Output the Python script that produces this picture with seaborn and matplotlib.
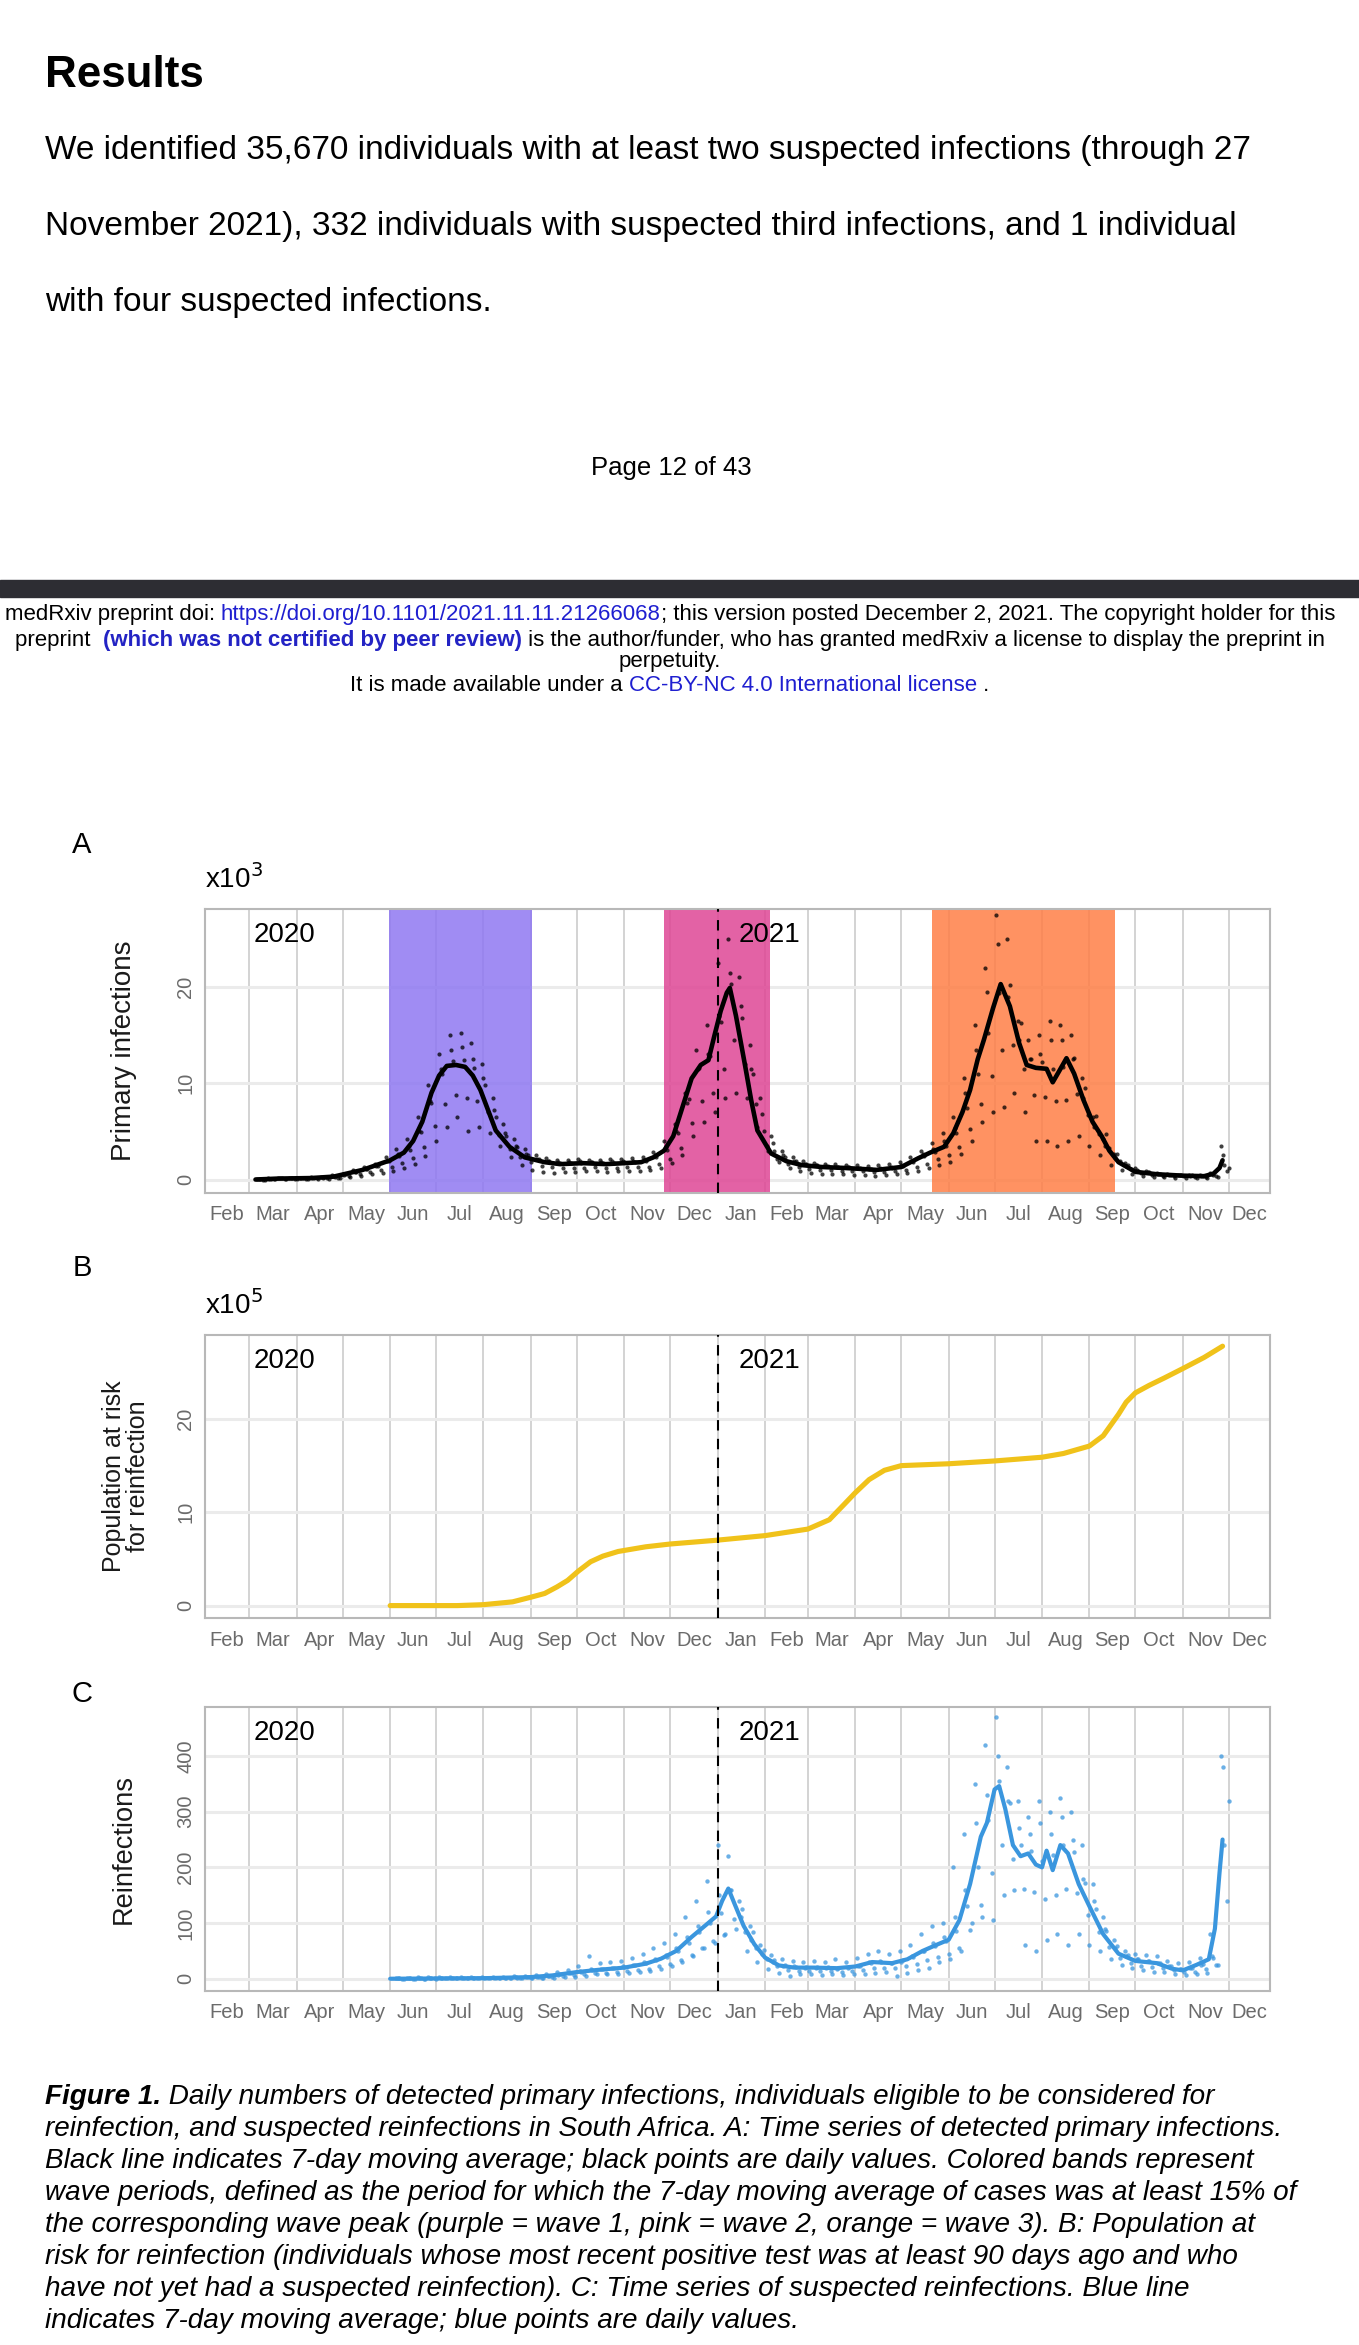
import pandas as pd
import matplotlib
matplotlib.use("Agg")
import matplotlib.pyplot as plt
import matplotlib.dates as mdates
from matplotlib.transforms import IdentityTransform
import numpy as np
import seaborn as sns

# ---------------- data ----------------
month_labels = ["Feb", "Mar", "Apr", "May", "Jun", "Jul", "Aug", "Sep", "Oct", "Nov", "Dec",
                "Jan", "Feb", "Mar", "Apr", "May", "Jun", "Jul", "Aug", "Sep", "Oct", "Nov", "Dec"]

# A: primary infections, 7-day average (x10^3)
a_line_dates = ["2020-03-05", "2020-03-20", "2020-04-10", "2020-04-25", "2020-05-14", "2020-06-01",
                "2020-06-10", "2020-06-16", "2020-06-22", "2020-06-28", "2020-07-03", "2020-07-08",
                "2020-07-14", "2020-07-20", "2020-07-25", "2020-07-30", "2020-08-04", "2020-08-09",
                "2020-08-18", "2020-08-28", "2020-09-10", "2020-09-20", "2020-10-05", "2020-10-20",
                "2020-11-01", "2020-11-12", "2020-11-20", "2020-11-27", "2020-12-03", "2020-12-10",
                "2020-12-15", "2020-12-21", "2020-12-26", "2020-12-30", "2021-01-03", "2021-01-07",
                "2021-01-09", "2021-01-13", "2021-01-19", "2021-01-23", "2021-01-27", "2021-02-05",
                "2021-02-15", "2021-02-25", "2021-03-10", "2021-03-25", "2021-04-05", "2021-04-15",
                "2021-05-01", "2021-05-12", "2021-05-20", "2021-05-29", "2021-06-04", "2021-06-10",
                "2021-06-15", "2021-06-20", "2021-06-24", "2021-06-30", "2021-07-05", "2021-07-11",
                "2021-07-17", "2021-07-22", "2021-07-28", "2021-08-04", "2021-08-08", "2021-08-12",
                "2021-08-17", "2021-08-22", "2021-08-28", "2021-09-03", "2021-09-09", "2021-09-14",
                "2021-09-20", "2021-10-01", "2021-10-15", "2021-11-01", "2021-11-15", "2021-11-21",
                "2021-11-25", "2021-11-27"]
a_line_vals = [0.0, 0.1, 0.15, 0.3, 1.0, 2.0,
               2.8, 4.0, 6.0, 9.0, 10.8, 11.8,
               11.9, 11.7, 10.8, 9.3, 7.2, 5.1,
               3.4, 2.3, 1.8, 1.6, 1.7, 1.6,
               1.7, 1.8, 2.3, 3.0, 4.5, 8.0,
               10.5, 11.9, 12.4, 15.0, 17.5, 19.4,
               19.9, 17.0, 11.8, 8.2, 5.1, 2.7,
               1.9, 1.5, 1.3, 1.2, 1.1, 1.0,
               1.3, 2.2, 2.8, 3.4, 4.8, 7.0,
               9.3, 12.5, 14.5, 17.8, 20.3, 18.0,
               14.2, 11.9, 11.6, 11.5, 10.1, 11.2,
               12.6, 11.0, 8.3, 6.0, 4.5, 3.0,
               1.8, 0.8, 0.55, 0.4, 0.35, 0.6,
               1.2, 2.0]

# A: daily points, five per week (weeks from 2020-03-05), x10^3
a_dot_hi = [0.05, 0.15, 0.2, 0.2, 0.2, 0.22, 0.3, 0.45, 0.6, 0.95, 1.3, 1.6, 2.3, 3.2, 4.2, 6.5,
            9.8, 13.0, 15.0, 15.2, 14.2, 12.0, 8.5, 5.8, 4.2, 3.2, 2.5, 2.2, 2.0, 2.0, 2.1, 2.0,
            2.0, 2.1, 2.1, 2.2, 2.3, 2.9, 4.0, 5.8, 9.0, 13.5, 16.0, 22.5, 25.0, 21.0, 14.0, 8.5,
            4.5, 3.0, 2.3, 1.9, 1.7, 1.6, 1.6, 1.5, 1.5, 1.4, 1.5, 1.6, 1.8, 2.3, 3.0, 3.8,
            4.8, 6.5, 10.5, 16.0, 22.0, 27.5, 25.0, 16.5, 14.5, 15.0, 16.5, 16.0, 15.0, 10.5, 6.5, 4.2,
            2.6, 1.7, 1.2, 0.9, 0.7, 0.6, 0.5, 0.45, 0.45, 0.7, 3.5]
a_dot_mid = [0.02, 0.1, 0.12, 0.15, 0.15, 0.18, 0.2, 0.35, 0.5, 0.8, 1.1, 1.4, 1.9, 2.6, 3.5, 5.0,
             8.2, 11.5, 13.5, 13.8, 12.5, 10.5, 7.2, 4.8, 3.5, 2.7, 2.1, 1.9, 1.8, 1.8, 1.9, 1.8,
             1.8, 1.9, 1.9, 1.9, 2.0, 2.5, 3.4, 5.0, 8.0, 11.5, 13.0, 17.0, 21.5, 18.0, 11.5, 6.8,
             3.8, 2.5, 1.9, 1.6, 1.5, 1.4, 1.3, 1.3, 1.2, 1.1, 1.2, 1.3, 1.5, 1.9, 2.6, 3.2,
             4.0, 5.3, 9.0, 13.5, 19.5, 24.5, 19.0, 14.5, 12.5, 13.0, 14.5, 14.5, 12.5, 8.5, 5.5, 3.5,
             2.2, 1.4, 1.0, 0.75, 0.6, 0.5, 0.45, 0.4, 0.4, 0.55, 2.5]
a_dot_near = [0.02, 0.07, 0.12, 0.14, 0.15, 0.17, 0.22, 0.3, 0.55, 0.8, 1.05, 1.45, 1.9, 2.4, 3.1, 4.9,
              7.9, 11.0, 12.3, 12.4, 11.6, 9.8, 6.5, 4.5, 3.4, 2.5, 2.1, 1.9, 1.75, 1.7, 1.75, 1.8,
              1.75, 1.7, 1.8, 1.85, 1.9, 2.3, 3.1, 4.8, 8.4, 11.6, 12.8, 16.4, 20.3, 16.8, 11.0, 5.0,
              3.0, 2.3, 1.9, 1.6, 1.5, 1.4, 1.3, 1.25, 1.2, 1.12, 1.05, 1.2, 1.4, 1.8, 2.4, 2.9,
              3.5, 4.8, 7.4, 11.0, 15.2, 19.4, 20.2, 16.3, 12.5, 12.2, 11.5, 11.7, 12.6, 9.5, 6.6, 4.7,
              2.6, 1.5, 0.9, 0.75, 0.58, 0.52, 0.45, 0.42, 0.37, 0.48, 1.5]
a_dot_lo2 = [0.0, 0.03, 0.07, 0.09, 0.1, 0.11, 0.15, 0.2, 0.35, 0.55, 0.75, 1.0, 1.3, 1.7, 2.2, 3.4,
             5.6, 7.8, 8.8, 8.5, 8.2, 7.0, 4.6, 3.2, 2.3, 1.8, 1.4, 1.3, 1.2, 1.2, 1.2, 1.25,
             1.2, 1.2, 1.25, 1.3, 1.35, 1.6, 2.1, 3.3, 5.9, 8.2, 9.0, 11.5, 14.5, 12.0, 7.8, 3.5,
             2.1, 1.6, 1.3, 1.1, 1.0, 0.95, 0.9, 0.9, 0.85, 0.8, 0.75, 0.85, 0.95, 1.25, 1.65, 2.1,
             2.5, 3.4, 5.2, 7.8, 10.8, 13.5, 14.0, 11.5, 8.8, 8.6, 8.2, 8.3, 8.9, 6.7, 4.7, 3.3,
             1.9, 1.05, 0.65, 0.52, 0.4, 0.37, 0.32, 0.3, 0.27, 0.34, 0.9]
a_dot_lo = [0.0, 0.05, 0.05, 0.05, 0.08, 0.08, 0.1, 0.15, 0.25, 0.4, 0.6, 0.7, 0.9, 1.2, 1.6, 2.4,
            4.0, 5.5, 6.5, 5.0, 5.5, 4.8, 3.5, 2.3, 1.5, 1.0, 0.8, 0.7, 0.8, 0.8, 0.9, 0.9,
            0.8, 0.9, 0.9, 0.9, 1.0, 1.2, 1.7, 2.5, 4.5, 6.0, 7.0, 8.5, 9.0, 8.5, 5.5, 3.0,
            1.8, 1.2, 0.9, 0.7, 0.6, 0.6, 0.6, 0.5, 0.5, 0.4, 0.5, 0.6, 0.7, 0.9, 1.2, 1.5,
            1.8, 2.6, 4.0, 6.0, 7.0, 7.5, 9.0, 7.0, 4.0, 4.0, 3.5, 4.0, 4.5, 3.5, 2.5, 1.5,
            1.0, 0.6, 0.4, 0.3, 0.25, 0.2, 0.2, 0.15, 0.2, 0.3, 1.2]

# A: wave periods
wave_starts = ["2020-05-31", "2020-11-27", "2021-05-21"]
wave_ends = ["2020-09-02", "2021-02-04", "2021-09-18"]
wave_colors = ["#8f78f2", "#df4695", "#ff7f47"]

# B: population at risk for reinfection (x10^5)
b_dates = ["2020-06-01", "2020-07-15", "2020-08-01", "2020-08-20", "2020-09-01", "2020-09-10",
           "2020-09-18", "2020-09-25", "2020-10-02", "2020-10-10", "2020-10-18", "2020-10-28",
           "2020-11-15", "2020-12-01", "2020-12-31", "2021-02-01", "2021-03-01", "2021-03-15",
           "2021-03-25", "2021-04-01", "2021-04-10", "2021-04-20", "2021-05-01", "2021-06-01",
           "2021-07-01", "2021-08-01", "2021-08-15", "2021-09-01", "2021-09-10", "2021-09-20",
           "2021-09-25", "2021-10-01", "2021-10-10", "2021-10-20", "2021-11-01", "2021-11-15",
           "2021-11-27"]
b_vals = [0.0, 0.0, 0.1, 0.4, 0.9, 1.3,
          2.0, 2.7, 3.7, 4.7, 5.3, 5.8,
          6.3, 6.6, 7.0, 7.5, 8.2, 9.2,
          10.9, 12.1, 13.5, 14.5, 15.0, 15.2,
          15.5, 15.9, 16.3, 17.1, 18.2, 20.5,
          21.8, 22.8, 23.6, 24.4, 25.4, 26.6,
          27.8]

# C: reinfections, 7-day average
c_line_dates = ["2020-06-01", "2020-08-01", "2020-09-01", "2020-09-15", "2020-10-01", "2020-10-15",
                "2020-11-01", "2020-11-15", "2020-11-25", "2020-12-05", "2020-12-15", "2020-12-25",
                "2020-12-31", "2021-01-04", "2021-01-08", "2021-01-12", "2021-01-18", "2021-01-25",
                "2021-02-01", "2021-02-10", "2021-02-20", "2021-03-05", "2021-03-20", "2021-04-01",
                "2021-04-12", "2021-04-25", "2021-05-05", "2021-05-15", "2021-05-25", "2021-06-01",
                "2021-06-08", "2021-06-15", "2021-06-22", "2021-06-26", "2021-07-01", "2021-07-04",
                "2021-07-08", "2021-07-13", "2021-07-18", "2021-07-23", "2021-07-28", "2021-08-01",
                "2021-08-04", "2021-08-08", "2021-08-13", "2021-08-18", "2021-08-25", "2021-09-01",
                "2021-09-10", "2021-09-20", "2021-10-01", "2021-10-15", "2021-10-25", "2021-11-01",
                "2021-11-10", "2021-11-18", "2021-11-22", "2021-11-25", "2021-11-27"]
c_line_vals = [0, 1, 3, 6, 12, 16,
               20, 27, 36, 50, 75, 98,
               112, 140, 162, 135, 95, 62,
               38, 24, 20, 20, 19, 22,
               30, 28, 35, 50, 62, 70,
               105, 170, 255, 280, 340, 346,
               305, 240, 220, 225, 205, 200,
               230, 195, 240, 225, 170, 130,
               80, 45, 32, 28, 18, 15,
               25, 35, 90, 190, 250]

# C: daily points, five per week (weeks from 2020-06-04)
c_dot_hi = [2, 2, 3, 3, 3, 4, 4, 4, 4, 4, 4, 5, 5, 7, 9, 12, 16, 22, 40, 28, 30, 32, 38, 45, 55, 65,
            80, 110, 140, 175, 240, 220, 140, 95, 60, 42, 35, 32, 30, 32, 30, 35, 30, 38, 45, 50,
            45, 50, 60, 80, 95, 100, 200, 260, 350, 420, 470, 380, 320, 290, 320, 300, 325, 300, 240, 170,
            110, 70, 50, 45, 42, 40, 32, 28, 30, 38, 80, 400]
c_dot_mid = [1, 1, 1, 2, 2, 2, 2, 2, 2, 2, 2, 3, 3, 4, 5, 7, 10, 14, 18, 18, 20, 22, 25, 30, 35, 42,
             55, 75, 95, 120, 150, 160, 110, 70, 45, 30, 22, 22, 20, 20, 20, 18, 20, 22, 30, 32,
             28, 30, 40, 50, 65, 75, 110, 160, 280, 330, 400, 320, 270, 260, 280, 260, 290, 250, 180, 140,
             90, 55, 40, 35, 32, 28, 22, 18, 20, 25, 40, 380]
c_dot_near = [1, 1, 1, 1, 1, 1, 1, 1, 1, 2, 2, 2, 3, 4, 5, 8, 10, 13, 15, 17, 19, 21, 24, 28, 33, 39,
              50, 65, 84, 100, 118, 160, 125, 84, 52, 34, 24, 21, 21, 21, 21, 20, 21, 23, 28, 30,
              29, 33, 39, 50, 58, 68, 85, 130, 200, 285, 355, 315, 240, 230, 212, 222, 240, 228, 172, 125,
              86, 58, 42, 35, 31, 29, 23, 18, 19, 27, 38, 240]
c_dot_lo2 = [0, 0, 0, 1, 1, 1, 1, 1, 1, 1, 1, 1, 2, 2, 3, 5, 6, 8, 10, 11, 13, 14, 16, 18, 22, 26,
             33, 43, 56, 67, 78, 108, 84, 56, 35, 22, 16, 14, 14, 14, 14, 13, 14, 15, 19, 20,
             19, 22, 26, 33, 39, 45, 56, 88, 133, 190, 240, 215, 162, 156, 143, 150, 162, 154, 115, 84,
             57, 38, 28, 23, 21, 20, 15, 12, 13, 18, 25, 140]
c_dot_lo = [0, 0, 0, 0, 1, 1, 1, 1, 1, 1, 1, 1, 1, 1, 2, 3, 4, 5, 8, 8, 9, 10, 12, 14, 18, 22,
            30, 40, 55, 65, 80, 90, 50, 30, 18, 10, 5, 8, 8, 6, 8, 6, 8, 8, 10, 12,
            5, 10, 15, 20, 30, 35, 50, 100, 110, 105, 150, 160, 60, 50, 70, 80, 60, 80, 60, 50,
            35, 25, 20, 15, 12, 12, 8, 6, 8, 10, 25, 320]

# ---------------- layout helpers ----------------
W, H = 1359, 2345
sns.set_theme(style="white")
plt.rcParams["font.family"] = ["Liberation Sans", "DejaVu Sans"]
plt.rcParams["text.color"] = "black"
fig = plt.figure(figsize=(W / 100, H / 100), dpi=100)
fig.patch.set_facecolor("white")
renderer = fig.canvas.get_renderer()
PX = IdentityTransform()


def seg_text(segs, x, y_top, size, align="left"):
    # segs: list of (text, color, weight, style); y_top = baseline measured from top in px
    widths = []
    for txt, col, wt, st in segs:
        a = fig.text(0, 0, txt + "|", fontsize=size, weight=wt, style=st, transform=PX)
        b = fig.text(0, 0, "|", fontsize=size, weight=wt, style=st, transform=PX)
        widths.append(a.get_window_extent(renderer).width - b.get_window_extent(renderer).width)
        a.remove()
        b.remove()
    x0 = x - sum(widths) / 2 if align == "center" else x
    for (txt, col, wt, st), w in zip(segs, widths):
        fig.text(x0, H - y_top, txt, fontsize=size, weight=wt, style=st, color=col,
                 transform=PX, va="baseline", ha="left")
        x0 += w


# ---------------- page text ----------------
fig.text(45, H - 87, "Results", fontsize=31.7, weight="bold", transform=PX, va="baseline")
body = ["We identified 35,670 individuals with at least two suspected infections (through 27",
        "November 2021), 332 individuals with suspected third infections, and 1 individual",
        "with four suspected infections."]
for line, yb in zip(body, [159, 235, 311]):
    fig.text(45, H - yb, line, fontsize=24, transform=PX, va="baseline")
fig.text(671, H - 475, "Page 12 of 43", fontsize=18.5, transform=PX, va="baseline", ha="center")
fig.patches.append(plt.Rectangle((0, H - 597), W, 17, transform=PX, color="#2d2d33"))

blue = "#1f1fd0"
seg_text([("medRxiv preprint doi: ", "black", "normal", "normal"),
          ("https://doi.org/10.1101/2021.11.11.21266068", blue, "normal", "normal"),
          ("; this version posted December 2, 2021. The copyright holder for this", "black", "normal", "normal")],
         670, 620, 16.05, "center")
seg_text([("preprint  ", "black", "normal", "normal"),
          ("(which was not certified by peer review)", "#2323c4", "bold", "normal"),
          (" is the author/funder, who has granted medRxiv a license to display the preprint in", "black", "normal", "normal")],
         670, 646, 16.05, "center")
seg_text([("perpetuity.", "black", "normal", "normal")], 670, 667, 16.05, "center")
seg_text([("It is made available under a ", "black", "normal", "normal"),
          ("CC-BY-NC 4.0 International license", blue, "normal", "normal"),
          (" .", "black", "normal", "normal")], 670, 691, 16.05, "center")

# ---------------- panels ----------------
month_starts = pd.date_range("2020-02-01", "2021-12-01", freq="MS")
x_right = pd.Timestamp("2021-12-28")
edges = list(month_starts) + [x_right]
month_mids = [edges[i] + (edges[i + 1] - edges[i]) / 2 for i in range(len(month_starts))]
new_year = pd.Timestamp("2021-01-01")


def make_axes(top, bottom):
    return fig.add_axes([205 / W, 1 - bottom / H, 1065 / W, (bottom - top) / H])


def style_axes(ax, ylim, yticks, ylabel, lsize, lx):
    ax.set_xlim(month_starts[0], x_right)
    ax.set_ylim(*ylim)
    ax.set_xticks(month_mids)
    ax.set_xticklabels(month_labels)
    ax.set_xticks(month_starts[1:], minor=True)
    ax.set_yticks(yticks)
    ax.set_yticklabels([str(v) for v in yticks], rotation=90, va="center")
    ax.tick_params(axis="x", which="both", length=0, pad=9, labelsize=14.5, labelcolor="#6b6b6b")
    ax.tick_params(axis="y", length=0, pad=7, labelsize=14.5, labelcolor="#6b6b6b")
    ax.set_axisbelow(True)
    ax.grid(False)
    ax.grid(which="minor", axis="x", color="#d3d3d3", lw=1.4)
    ax.grid(which="major", axis="y", color="#ebebeb", lw=2.2)
    for sp in ax.spines.values():
        sp.set_color("#b8b8b8")
        sp.set_linewidth(1.5)
    ax.set_xlabel("")
    ax.set_ylabel(ylabel, fontsize=lsize, color="#1a1a1a", linespacing=1.0)
    ax.yaxis.set_label_coords(lx, 0.5)
    ax.axvline(new_year, color="black", ls=(0, (5, 4)), lw=1.5, zorder=4)
    xt = ax.get_xaxis_transform()
    ax.text(mdates.date2num(pd.Timestamp("2020-03-24")), 0.908, "2020", transform=xt,
            ha="center", va="center", fontsize=20, zorder=5)
    ax.text(mdates.date2num(pd.Timestamp("2021-02-04")), 0.908, "2021", transform=xt,
            ha="center", va="center", fontsize=20, zorder=5)


def weekly_dots(start, series):
    # series: list of (values, day offset within the week)
    n = len(series[0][0])
    wk = pd.date_range(start, periods=n, freq="7D")
    dates, vals = [], []
    for v, off in series:
        dates += list(wk + pd.Timedelta(days=off))
        vals += list(v)
    return pd.DataFrame({"date": dates, "value": vals})


# Panel A
axA = make_axes(909, 1193)
for s, e, c in zip(wave_starts, wave_ends, wave_colors):
    axA.axvspan(pd.Timestamp(s), pd.Timestamp(e), color=c, alpha=0.85, lw=0, zorder=1)
a_dots = weekly_dots("2020-03-05", [(a_dot_hi, 1), (a_dot_mid, 2), (a_dot_near, 3),
                                    (a_dot_lo2, 5), (a_dot_lo, 6)])
sns.scatterplot(data=a_dots, x="date", y="value", ax=axA, color="black", s=9, alpha=0.75,
                linewidth=0, zorder=2)
a_line = pd.DataFrame({"date": pd.to_datetime(a_line_dates), "value": a_line_vals})
sns.lineplot(data=a_line, x="date", y="value", ax=axA, color="black", lw=3.3, zorder=3)
style_axes(axA, (-1.4, 28.1), [0, 10, 20], "Primary infections", 20, -0.064)
axA.text(0, 1.106, r"x10$^3$", transform=axA.transAxes, fontsize=20, va="center", ha="left")

# Panel B
axB = make_axes(1335, 1618)
b_line = pd.DataFrame({"date": pd.to_datetime(b_dates), "value": b_vals})
sns.lineplot(data=b_line, x="date", y="value", ax=axB, color="#f0c21a", lw=3.7, zorder=3)
style_axes(axB, (-1.33, 29.0), [0, 10, 20], "Population at risk\nfor reinfection", 18, -0.052)
axB.text(0, 1.106, r"x10$^5$", transform=axB.transAxes, fontsize=20, va="center", ha="left")

# Panel C
axC = make_axes(1707, 1991)
c_dots = weekly_dots("2020-06-04", [(c_dot_hi, 1), (c_dot_mid, 2), (c_dot_near, 3),
                                    (c_dot_lo2, 5), (c_dot_lo, 6)])
sns.scatterplot(data=c_dots, x="date", y="value", ax=axC, color="#3a96de", s=10, alpha=0.75,
                linewidth=0, zorder=2)
c_line = pd.DataFrame({"date": pd.to_datetime(c_line_dates), "value": c_line_vals})
sns.lineplot(data=c_line, x="date", y="value", ax=axC, color="#3a96de", lw=3, zorder=3)
style_axes(axC, (-22, 488), [0, 100, 200, 300, 400], "Reinfections", 19.6, -0.064)

# panel letters
for letter, yc in zip(["A", "B", "C"], [845, 1268, 1694]):
    fig.text(82, H - yc, letter, fontsize=21, transform=PX, va="center", ha="center")

# ---------------- caption ----------------
cap = [
    [("Figure 1.", "black", "bold", "italic"),
     (" Daily numbers of detected primary infections, individuals eligible to be considered for", "black", "normal", "italic")],
    [("reinfection, and suspected reinfections in South Africa. A: Time series of detected primary infections.", "black", "normal", "italic")],
    [("Black line indicates 7-day moving average; black points are daily values. Colored bands represent", "black", "normal", "italic")],
    [("wave periods, defined as the period for which the 7-day moving average of cases was at least 15% of", "black", "normal", "italic")],
    [("the corresponding wave peak (purple = wave 1, pink = wave 2, orange = wave 3). B: Population at", "black", "normal", "italic")],
    [("risk for reinfection (individuals whose most recent positive test was at least 90 days ago and who", "black", "normal", "italic")],
    [("have not yet had a suspected reinfection). C: Time series of suspected reinfections. Blue line", "black", "normal", "italic")],
    [("indicates 7-day moving average; blue points are daily values.", "black", "normal", "italic")],
]
for segs, yb in zip(cap, [2104, 2136, 2168, 2200, 2232, 2264, 2296, 2328]):
    seg_text(segs, 45, yb, 20.1)

fig.savefig("out.png", dpi=100, facecolor="white")
